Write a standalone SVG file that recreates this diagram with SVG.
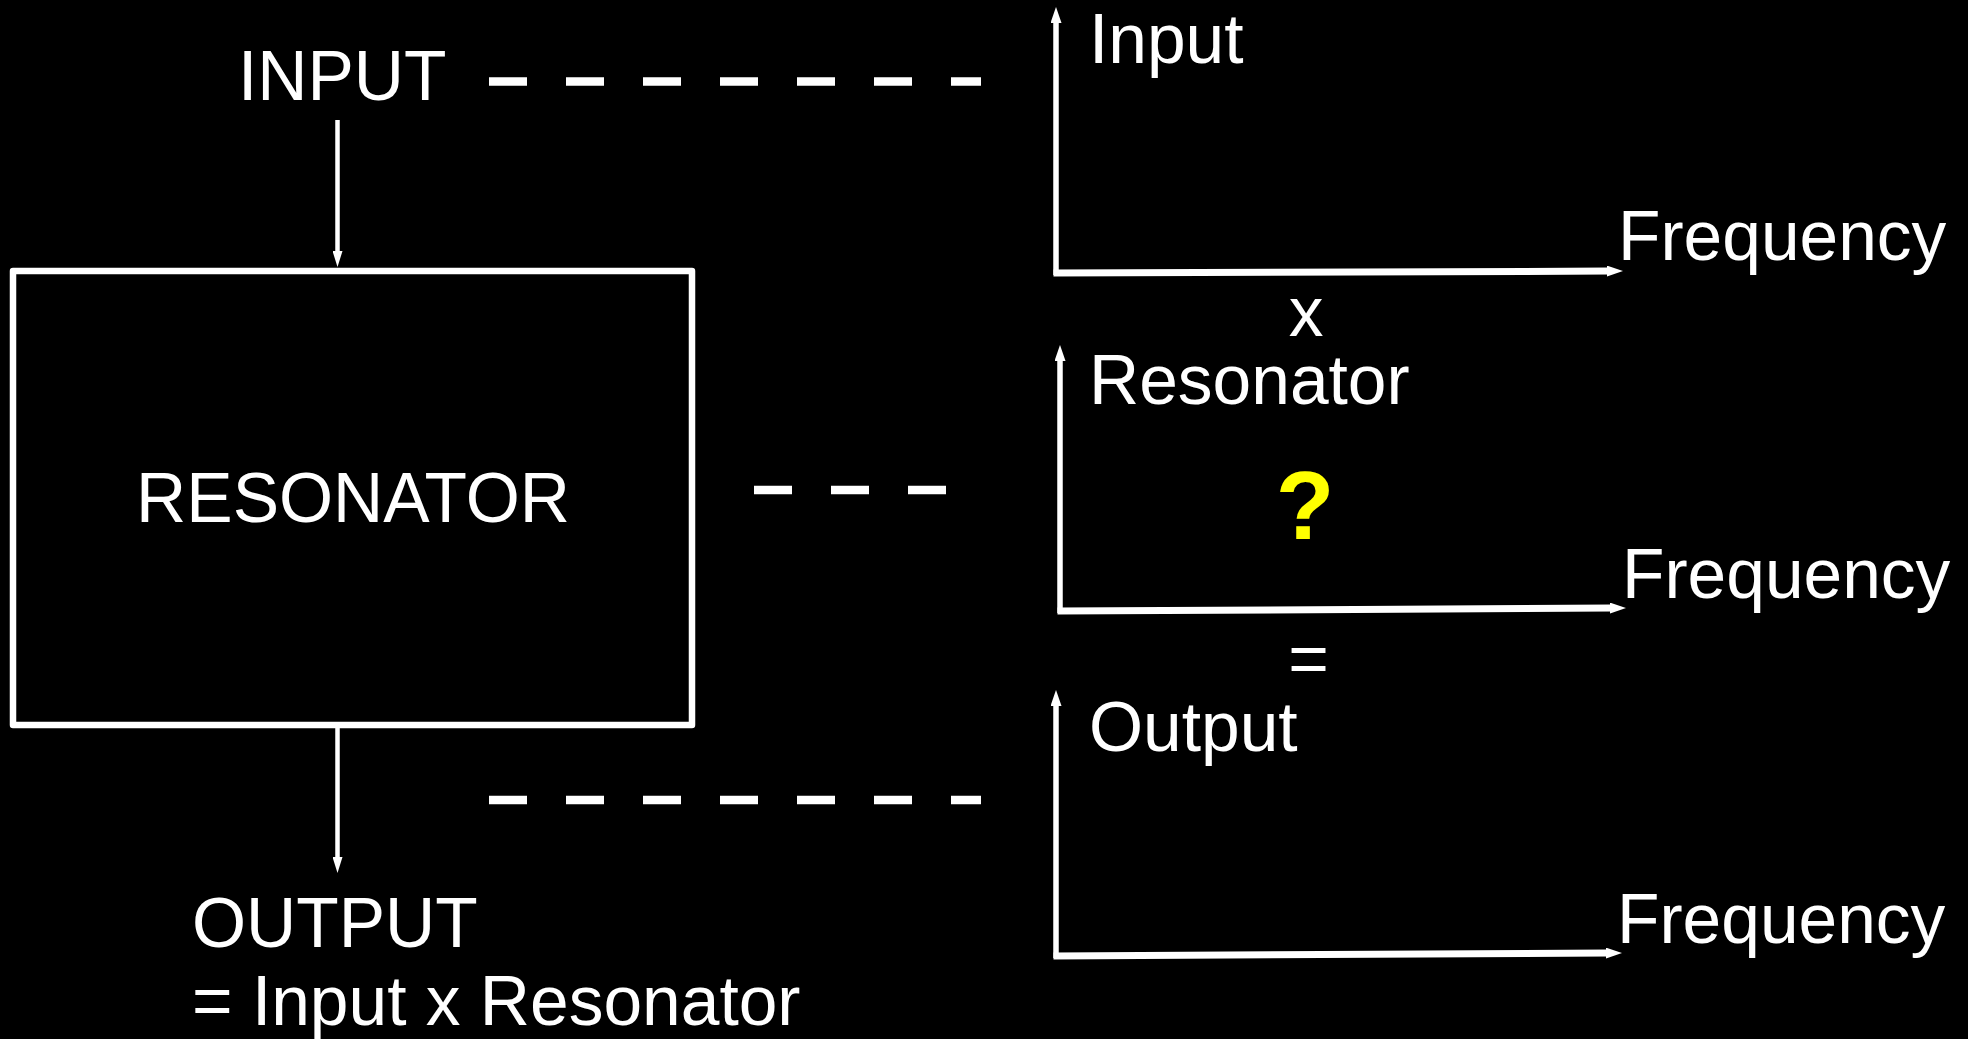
<svg xmlns="http://www.w3.org/2000/svg" width="1968" height="1039" viewBox="0 0 1968 1039">
  <defs>
    <style>
      .t { font-family: "Liberation Sans", Arial, sans-serif; font-size: 69.5px; fill: #ffffff; }
      .q { font-family: "Liberation Sans", Arial, sans-serif; font-size: 96px; font-weight: bold; fill: #ffff00; }
      .dash { stroke: #ffffff; stroke-width: 8.5; stroke-dasharray: 38 39; fill: none; }
      .thin { stroke: #ffffff; stroke-width: 4.5; fill: none; }
      .vax { stroke: #ffffff; stroke-width: 5.5; fill: none; }
      .hax { stroke: #ffffff; stroke-width: 7; fill: none; }
    </style>
    <marker id="ah" markerUnits="userSpaceOnUse" viewBox="0 0 16 11" markerWidth="16" markerHeight="11" refX="2" refY="5.5" orient="auto">
      <path d="M0,0 L16,5.5 L0,11 Z" fill="#ffffff"/>
    </marker>
    <marker id="ahs" markerUnits="userSpaceOnUse" viewBox="0 0 16 10" markerWidth="16" markerHeight="10" refX="2" refY="5" orient="auto">
      <path d="M0,0 L16,5 L0,10 Z" fill="#ffffff"/>
    </marker>
  </defs>
  <rect x="0" y="0" width="1968" height="1039" fill="#000000"/>

  <g id="input-label">
    <text class="t" x="238" y="100">INPUT</text>
  </g>

  <g id="resonator-box">
    <rect x="13" y="271" width="679" height="454" fill="none" stroke="#ffffff" stroke-width="6.5" stroke-linejoin="round"/>
    <text class="t" x="353" y="522" text-anchor="middle">RESONATOR</text>
  </g>

  <g id="output-label">
    <text class="t" x="192" y="947">OUTPUT</text>
    <text class="t" x="192" y="1025">= Input x Resonator</text>
  </g>

  <g id="input-plot">
    <line class="vax" x1="1056" y1="275" x2="1056" y2="21" marker-end="url(#ah)"/>
    <line class="hax" x1="1053.5" y1="273" x2="1609" y2="271.1" marker-end="url(#ah)"/>
    <text class="t" x="1089" y="63">Input</text>
    <text class="t" x="1618" y="260">Frequency</text>
  </g>

  <g id="times-sign">
    <text class="t" x="1306" y="336" text-anchor="middle">x</text>
  </g>

  <g id="resonator-plot">
    <line class="vax" x1="1060" y1="613" x2="1060" y2="359" marker-end="url(#ah)"/>
    <line class="hax" x1="1057.5" y1="611" x2="1612" y2="608.1" marker-end="url(#ah)"/>
    <text class="t" x="1089" y="404">Resonator</text>
    <text class="q" x="1305" y="539" text-anchor="middle">?</text>
    <text class="t" x="1622" y="598">Frequency</text>
  </g>

  <g id="equals-sign">
    <text class="t" x="1308.5" y="683" text-anchor="middle">=</text>
  </g>

  <g id="output-plot">
    <line class="vax" x1="1056" y1="958" x2="1056" y2="704" marker-end="url(#ah)"/>
    <line class="hax" x1="1053.5" y1="956" x2="1608" y2="953.1" marker-end="url(#ah)"/>
    <text class="t" x="1089" y="751">Output</text>
    <text class="t" x="1617" y="943">Frequency</text>
  </g>

  <g id="connectors">
    <line class="thin" x1="337.5" y1="120" x2="337.5" y2="253" marker-end="url(#ahs)"/>
    <line class="thin" x1="337.5" y1="728" x2="337.5" y2="859" marker-end="url(#ahs)"/>
    <line class="dash" x1="489" y1="81.5" x2="981" y2="81.5"/>
    <line class="dash" x1="754" y1="490" x2="946" y2="490"/>
    <line class="dash" x1="489" y1="800" x2="981" y2="800"/>
  </g>
</svg>
